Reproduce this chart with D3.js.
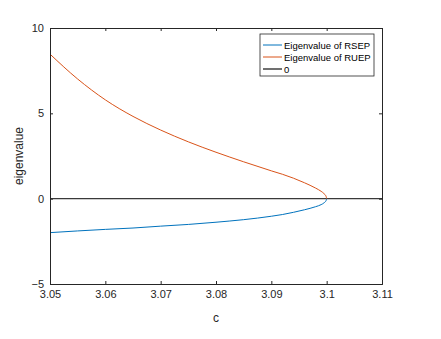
<!DOCTYPE html>
<html>
<head>
<meta charset="utf-8">
<script src="https://cdn.jsdelivr.net/npm/d3@7"></script>
<style>
  body { margin: 0; background: #fff; }
  svg text { font-family: "Liberation Sans", Arial, Helvetica, sans-serif; }
</style>
</head>
<body>
<div id="chart"></div>
<script>
/* eigenvalue vs c, MATLAB style figure */

// x values (c) and the two eigenvalue branches
var cRSEP = [3.05, 3.055, 3.06, 3.065, 3.07, 3.075, 3.08, 3.085, 3.09, 3.092, 3.094, 3.096, 3.098, 3.099, 3.0995, 3.0999, 3.1];
var rsep  = [-1.99, -1.89, -1.80, -1.72, -1.61, -1.51, -1.38, -1.23, -1.03, -0.93, -0.80, -0.65, -0.47, -0.35, -0.25, -0.11, 0];

var cRUEP = [3.05, 3.055, 3.06, 3.065, 3.07, 3.075, 3.08, 3.085, 3.09, 3.092, 3.094, 3.096, 3.098, 3.099, 3.0995, 3.0999, 3.1];
var ruep  = [8.47, 7.01, 5.79, 4.82, 4.02, 3.33, 2.72, 2.16, 1.63, 1.43, 1.20, 0.93, 0.62, 0.43, 0.30, 0.13, 0];

var xTicks = [3.05, 3.06, 3.07, 3.08, 3.09, 3.1, 3.11];
var yTicks = [-5, 0, 5, 10];
var legendNames = ["Eigenvalue of RSEP", "Eigenvalue of RUEP", "0"];
var colors = ["#0072BD", "#D95319", "#3a3a3a"];

// set the dimensions and margins of the graph
var margin = {top: 28, right: 59, bottom: 55, left: 50},
    width = 441 - margin.left - margin.right,
    height = 339 - margin.top - margin.bottom;

var x = d3.scaleLinear().domain([3.05, 3.11]).range([0, width]);
var y = d3.scaleLinear().domain([-5, 10]).range([height, 0]);

var svg = d3.select("#chart").append("svg")
    .attr("width", 441)
    .attr("height", 339)
  .append("g")
    .attr("transform", "translate(" + margin.left + "," + margin.top + ")");

var line = d3.line()
    .x(function(d) { return x(d[0]); })
    .y(function(d) { return y(d[1]); })
    .curve(d3.curveMonotoneX);

// zero line
svg.append("line")
    .attr("x1", 0).attr("x2", width)
    .attr("y1", y(0)).attr("y2", y(0))
    .attr("stroke", colors[2])
    .attr("stroke-width", 1.2);

// the two branches
svg.append("path")
    .datum(d3.zip(cRSEP, rsep))
    .attr("fill", "none")
    .attr("stroke", colors[0])
    .attr("stroke-width", 1)
    .attr("d", line);

svg.append("path")
    .datum(d3.zip(cRUEP, ruep))
    .attr("fill", "none")
    .attr("stroke", colors[1])
    .attr("stroke-width", 1)
    .attr("d", line);

// axes, ticks point inwards like matlab
var fmt = function(d) { return d3.format("")(+d.toFixed(2)); };

svg.append("g")
    .attr("class", "axis")
    .attr("transform", "translate(0," + height + ")")
    .call(d3.axisBottom(x).tickValues(xTicks).tickSize(-3).tickPadding(6).tickFormat(fmt));

svg.append("g")
    .attr("class", "axis")
    .call(d3.axisTop(x).tickValues(xTicks).tickSize(-3).tickFormat(""));

svg.append("g")
    .attr("class", "axis")
    .call(d3.axisLeft(y).tickValues(yTicks).tickSize(-3).tickPadding(6));

svg.append("g")
    .attr("class", "axis")
    .attr("transform", "translate(" + width + ",0)")
    .call(d3.axisRight(y).tickValues(yTicks).tickSize(-3).tickFormat(""));

svg.selectAll(".axis path").attr("stroke", "#262626").attr("stroke-width", 1);
svg.selectAll(".axis line").attr("stroke", "#262626");
svg.selectAll(".axis text")
    .attr("fill", "#262626")
    .style("font-size", "11px");

// axis labels
svg.append("text")
    .attr("x", width / 2)
    .attr("y", height + 38)
    .attr("text-anchor", "middle")
    .attr("fill", "#262626")
    .style("font-size", "12px")
    .text("c");

svg.append("text")
    .attr("transform", "rotate(-90)")
    .attr("x", -height / 2)
    .attr("y", -27)
    .attr("text-anchor", "middle")
    .attr("fill", "#262626")
    .style("font-size", "12px")
    .text("eigenvalue");

// legend
var lg = svg.append("g")
    .attr("transform", "translate(" + (x(3.05) + 210) + ",6)");

lg.append("rect")
    .attr("width", 114)
    .attr("height", 42)
    .attr("fill", "#fff")
    .attr("stroke", "#262626")
    .attr("stroke-width", 0.8);

legendNames.forEach(function(name, i) {
    var yy = 11 + i * 12;
    lg.append("line")
        .attr("x1", 3).attr("x2", 22)
        .attr("y1", yy).attr("y2", yy)
        .attr("stroke", i == 2 ? "#707070" : colors[i])
        .attr("stroke-width", i == 2 ? 2 : 1);
    lg.append("text")
        .attr("x", 24)
        .attr("y", yy + 3.5)
        .attr("fill", "#000")
        .style("font-size", "9.5px")
        .text(name);
});
</script>
</body>
</html>
